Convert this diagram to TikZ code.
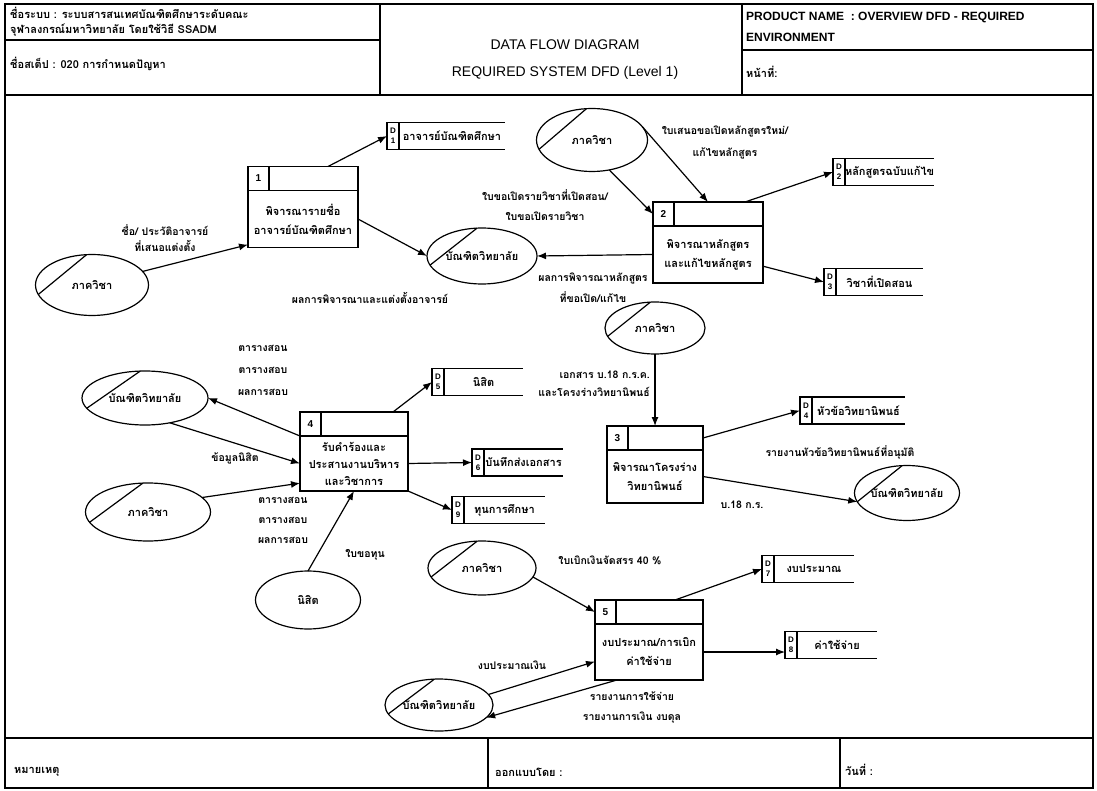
\documentclass[tikz,border=0pt]{standalone}
\usepackage{fontspec}
\setmainfont{Liberation Sans}
\newfontfamily\thaifont[Script=Thai]{Loma}
\usetikzlibrary{positioning,shapes.geometric,arrows.meta}

\begin{document}
\begin{tikzpicture}[x=1pt, y=-1pt, >={Latex[length=9pt,width=7pt]},
  thai/.style={font=\thaifont\bfseries\fontsize{11}{19}\selectfont},
  entity/.style={draw, very thick, ellipse, inner sep=0pt, outer sep=0pt, thai},
  procbody/.style={draw, very thick, rectangle, minimum width=#1, inner sep=1pt, outer sep=0pt, align=center, thai},
  prochead/.style={draw, very thick, rectangle, minimum width=#1, minimum height=24pt, outer sep=0pt},
  procnum/.style={draw, very thick, rectangle, minimum width=21pt, minimum height=24pt, outer sep=0pt, font=\bfseries\fontsize{10}{12}\selectfont},
  storeid/.style={draw, very thick, rectangle, minimum width=12pt, minimum height=27pt, inner sep=0pt, outer sep=0pt, align=center, font=\bfseries\fontsize{8}{10}\selectfont},
  storename/.style={rectangle, minimum width=#1, minimum height=27pt, inner sep=0pt, outer sep=0pt, thai},
  flowlabel/.style={align=center, inner sep=0pt, thai, font=\thaifont\bfseries\fontsize{10.5}{20}\selectfont},
  hdrtext/.style={anchor=west, inner sep=0pt, thai}]
  \useasboundingbox (0,0) rectangle (1097,791);

  % Frame
  \draw[very thick] (5,4) rectangle (1093,788);
  \draw[very thick] (5,95) -- (1093,95);
  \draw[very thick] (380,4) -- (380,95);
  \draw[very thick] (742,4) -- (742,95);
  \draw[very thick] (5,40) -- (380,40);
  \draw[very thick] (742,50) -- (1093,50);
  \draw[very thick] (5,738) -- (1093,738);
  \draw[very thick] (488,738) -- (488,788);
  \draw[very thick] (840,738) -- (840,788);

  % Header
  \node[hdrtext] (sysname) at (10,13) {ชื่อระบบ : ระบบสารสนเทศบัณฑิตศึกษาระดับคณะ};
  \node[hdrtext] (sysname2) at (10,30) {จุฬาลงกรณ์มหาวิทยาลัย โดยใช้วิธี SSADM};
  \node[hdrtext] (stepname) at (10,64) {ชื่อสเต็ป : 020 การกำหนดปัญหา};
  \node[font=\fontsize{14}{16}\selectfont] (title) at (565,45) {DATA FLOW DIAGRAM};
  \node[font=\fontsize{14}{16}\selectfont] (subtitle) at (565,73) {REQUIRED SYSTEM DFD (Level 1)};
  \node[anchor=west, inner sep=0pt, font=\bfseries\fontsize{12}{14}\selectfont] (product) at (746,17) {PRODUCT NAME\ \ : OVERVIEW DFD - REQUIRED};
  \node[anchor=west, inner sep=0pt, font=\bfseries\fontsize{12}{14}\selectfont] (product2) at (746,37) {ENVIRONMENT};
  \node[hdrtext] (page) at (746,72) {หน้าที่:};

  % Footer
  \node[hdrtext] (remark) at (14,772) {หมายเหตุ};
  \node[hdrtext] (designer) at (495,772) {ออกแบบโดย :};
  \node[hdrtext] (date) at (845,770) {วันที่ :};

  % Process 1
  \node[procbody=110pt, minimum height=57pt] (p1) at (303,219) {พิจารณารายชื่อ\\อาจารย์บัณฑิตศึกษา};
  \node[prochead=110pt, above=0pt of p1] (p1top) {};
  \node[procnum, anchor=north west] (p1num) at (p1top.north west) {1};

  % Process 2
  \node[procbody=110pt, minimum height=57pt] (p2) at (708,254.5) {พิจารณาหลักสูตร\\และแก้ไขหลักสูตร};
  \node[prochead=110pt, above=0pt of p2] (p2top) {};
  \node[procnum, anchor=north west] (p2num) at (p2top.north west) {2};

  % Process 3
  \node[procbody=96pt, minimum height=53pt] (p3) at (655,476.5) {พิจารณาโครงร่าง\\วิทยานิพนธ์};
  \node[prochead=96pt, above=0pt of p3] (p3top) {};
  \node[procnum, anchor=north west] (p3num) at (p3top.north west) {3};

  % Process 4
  \node[procbody=108pt, minimum height=55pt, font=\thaifont\bfseries\fontsize{11}{17}\selectfont] (p4) at (354,463.5) {รับคำร้องและ\\ประสานงานบริหาร\\และวิชาการ};
  \node[prochead=108pt, above=0pt of p4] (p4top) {};
  \node[procnum, anchor=north west] (p4num) at (p4top.north west) {4};

  % Process 5
  \node[procbody=108pt, minimum height=56pt] (p5) at (649,652) {งบประมาณ/การเบิก\\ค่าใช้จ่าย};
  \node[prochead=108pt, above=0pt of p5] (p5top) {};
  \node[procnum, anchor=north west] (p5num) at (p5top.north west) {5};

  % Data stores
  \node[storeid] (d1id) at (393,136) {D\\1};
  \node[storename=106pt, right=0pt of d1id] (d1) {อาจารย์บัณฑิตศึกษา};
  \node[storeid] (d2id) at (839,172) {D\\2};
  \node[storename=86pt, right=0pt of d2id] (d2) {หลักสูตรฉบับแก้ไข};
  \node[storeid] (d3id) at (830,282) {D\\3};
  \node[storename=87pt, right=0pt of d3id] (d3) {วิชาที่เปิดสอน};
  \node[storeid] (d4id) at (806,410.5) {D\\4};
  \node[storename=93pt, right=0pt of d4id] (d4) {หัวข้อวิทยานิพนธ์};
  \node[storeid] (d5id) at (438,382) {D\\5};
  \node[storename=79pt, right=0pt of d5id] (d5) {นิสิต};
  \node[storeid] (d6id) at (478,462.5) {D\\6};
  \node[storename=79pt, right=0pt of d6id] (d6) {บันทึกส่งเอกสาร};
  \node[storeid] (d9id) at (458,510) {D\\9};
  \node[storename=81pt, right=0pt of d9id] (d9) {ทุนการศึกษา};
  \node[storeid] (d7id) at (768,569) {D\\7};
  \node[storename=80pt, right=0pt of d7id] (d7) {งบประมาณ};
  \node[storeid] (d8id) at (791,645) {D\\8};
  \node[storename=80pt, right=0pt of d8id] (d8) {ค่าใช้จ่าย};
  \foreach \s in {d1,d2,d3,d4,d5,d6,d7,d8,d9}
    \draw[very thick] (\s id.north west) -- (\s.north east) (\s id.south west) -- (\s.south east);

  % External entities
  \node[entity, minimum width=113pt, minimum height=61pt] (dept1) at (92,285) {ภาควิชา};
  \node[entity, minimum width=110pt, minimum height=56pt] (grad1) at (482,256) {บัณฑิตวิทยาลัย};
  \node[entity, minimum width=111pt, minimum height=63pt] (dept2) at (592,140) {ภาควิชา};
  \node[entity, minimum width=100pt, minimum height=52pt] (dept3) at (655,328) {ภาควิชา};
  \node[entity, minimum width=105pt, minimum height=55pt] (grad2) at (907,493) {บัณฑิตวิทยาลัย};
  \node[entity, minimum width=126pt, minimum height=54pt] (grad3) at (145,398) {บัณฑิตวิทยาลัย};
  \node[entity, minimum width=125pt, minimum height=58pt] (dept4) at (148,512) {ภาควิชา};
  \node[entity, minimum width=105pt, minimum height=58pt] (student) at (308,600) {นิสิต};
  \node[entity, minimum width=108pt, minimum height=54pt] (dept5) at (482,568) {ภาควิชา};
  \node[entity, minimum width=108pt, minimum height=52pt] (grad4) at (439,705) {บัณฑิตวิทยาลัย};
  \foreach \e in {dept1,grad1,dept2,dept3,grad2,grad3,dept4,dept5,grad4}
    \draw[very thick] (\e.190) -- (\e.100);

  % Flow labels
  \node[flowlabel, font=\thaifont\bfseries\fontsize{10.5}{16}\selectfont] (lbl1) at (165,238) {ชื่อ/ ประวัติอาจารย์\\ที่เสนอแต่งตั้ง};
  \node[flowlabel] (lbl2) at (370,298) {ผลการพิจารณาและแต่งตั้งอาจารย์};
  \node[flowlabel] (lbl3) at (545,205) {ใบขอเปิดรายวิชาที่เปิดสอน/\\ใบขอเปิดรายวิชา};
  \node[flowlabel, font=\thaifont\bfseries\fontsize{10.5}{22}\selectfont] (lbl4) at (725,142) {ใบเสนอขอเปิดหลักสูตรใหม่/\\แก้ไขหลักสูตร};
  \node[flowlabel, font=\thaifont\bfseries\fontsize{10.5}{21}\selectfont] (lbl5) at (593,288) {ผลการพิจารณาหลักสูตร\\ที่ขอเปิด/แก้ไข};
  \node[flowlabel, align=right, anchor=east, font=\thaifont\bfseries\fontsize{10.5}{18}\selectfont] (lbl6) at (650,384) {เอกสาร บ.18 ก.ร.ค.\\และโครงร่างวิทยานิพนธ์};
  \node[flowlabel] (lbl7) at (840,452) {รายงานหัวข้อวิทยานิพนธ์ที่อนุมัติ};
  \node[flowlabel] (lbl8) at (742,505) {บ.18 ก.ร.};
  \node[flowlabel, font=\thaifont\bfseries\fontsize{10.5}{22}\selectfont] (lbl9) at (263,370) {ตารางสอน\\ตารางสอบ\\ผลการสอบ};
  \node[flowlabel] (lbl10) at (235,458) {ข้อมูลนิสิต};
  \node[flowlabel] (lbl11) at (283,520) {ตารางสอน\\ตารางสอบ\\ผลการสอบ};
  \node[flowlabel] (lbl12) at (365,555) {ใบขอทุน};
  \node[flowlabel] (lbl13) at (610,560) {ใบเบิกเงินจัดสรร 40 \%};
  \node[flowlabel] (lbl14) at (512,665) {งบประมาณเงิน};
  \node[flowlabel] (lbl15) at (632,707) {รายงานการใช้จ่าย\\รายงานการเงิน งบดุล};

  % Arrows
  \draw[->, very thick] (dept1.15) -- (p1.205);
  \draw[->, very thick] ([xshift=-30pt]p1top.north east) -- (d1id.west);
  \draw[->, very thick] (p1.east) -- (grad1.west);
  \draw[->, very thick] (dept2.300) -- (p2num.west);
  \draw[->, very thick] (dept2.15) -- (p2top.north);
  \draw[->, very thick] (p2.west) -- (grad1.east);
  \draw[->, very thick] ([xshift=-18pt]p2top.north east) -- (d2id.west);
  \draw[->, very thick] (p2.-12) -- (d3id.west);
  \draw[->, very thick] (dept3.south) -- (p3top.north);
  \draw[->, very thick] (p3top.east) -- (d4id.west);
  \draw[->, very thick] (p3.east) -- (grad2.190);
  \draw[->, very thick] (p4top.south west) -- (grad3.east);
  \draw[->, very thick] (grad3.315) -- (p4.west);
  \draw[->, very thick] (dept4.15) -- (p4.200);
  \draw[->, very thick] (student.north) -- (p4.south);
  \draw[->, very thick] ([xshift=-15pt]p4top.north east) -- (d5id.west);
  \draw[->, very thick] (p4.east) -- (d6id.west);
  \draw[->, very thick] (p4.south east) -- (d9id.west);
  \draw[->, very thick] (dept5.350) -- (p5top.west);
  \draw[->, very thick] ([xshift=-28pt]p5top.north east) -- (d7id.west);
  \draw[->, very thick] (p5.east) -- (p5.east -| d8id.west);
  \draw[->, very thick] (grad4.12) -- (p5.190);
  \draw[->, very thick] ([xshift=22pt]p5.south west) -- (grad4.345);
\end{tikzpicture}
\end{document}
